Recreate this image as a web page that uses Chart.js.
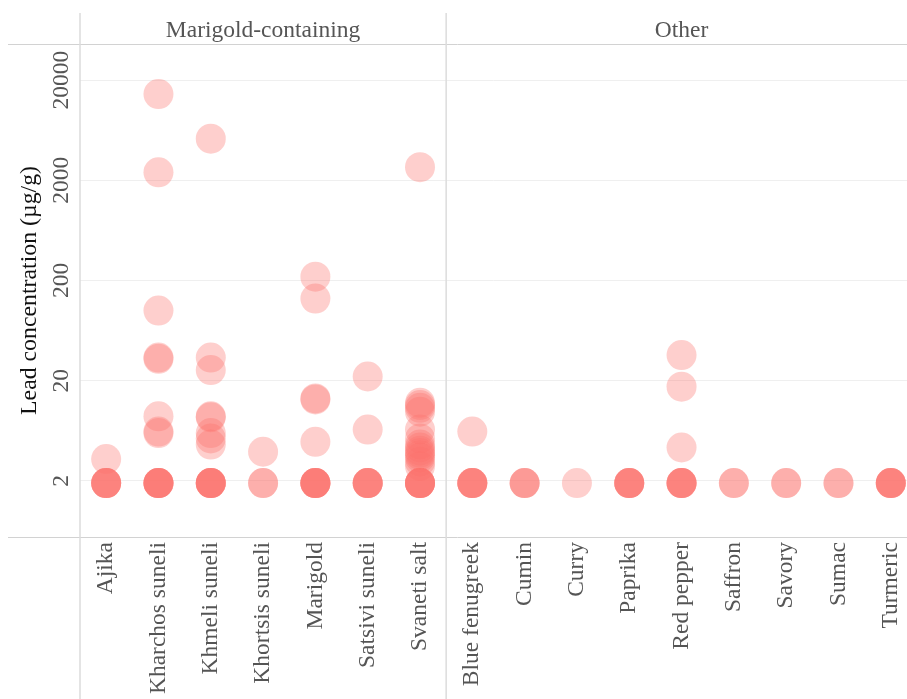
<!DOCTYPE html>
<html>
<head>
<meta charset="utf-8">
<script src="https://cdn.jsdelivr.net/npm/chart.js@4/dist/chart.umd.min.js"></script>
<style>
  html, body { margin: 0; padding: 0; background: #fff; overflow: hidden; }
  #wrap { width: 907px; height: 699px; position: relative; }
</style>
</head>
<body>
<div id="wrap"><canvas id="chart"></canvas></div>
<script>
// spice categories, in two groups
const marigoldGroup = ['Ajika', 'Kharchos suneli', 'Khmeli suneli', 'Khortsis suneli', 'Marigold', 'Satsivi suneli', 'Svaneti salt'];
const otherGroup = ['Blue fenugreek', 'Cumin', 'Curry', 'Paprika', 'Red pepper', 'Saffron', 'Savory', 'Sumac', 'Turmeric'];
const categories = marigoldGroup.concat(otherGroup);

// lead concentration per sample (µg/g), 1.9 = below limit row
const leadValues = [
  [3.3, 1.9, 1.9, 1.9, 1.9, 1.9],                                   // Ajika
  [14500, 2400, 100, 34, 33, 8.8, 6.2, 6.0, 1.9, 1.9, 1.9, 1.9, 1.9, 1.9], // Kharchos suneli
  [5200, 34, 25.5, 8.8, 8.6, 6.0, 5.3, 4.6, 1.9, 1.9, 1.9, 1.9, 1.9, 1.9], // Khmeli suneli
  [3.9, 1.9, 1.9],                                                   // Khortsis suneli
  [218, 132, 13.3, 13.0, 4.9, 1.9, 1.9, 1.9, 1.9, 1.9, 1.9],        // Marigold
  [22, 6.5, 1.9, 1.9, 1.9, 1.9, 1.9],                                // Satsivi suneli
  [2700, 12, 11.4, 10.7, 9.8, 6.5, 5.3, 4.6, 4.3, 4.0, 3.8, 3.6, 3.4, 3.1, 2.8, 1.9, 1.9, 1.9, 1.9, 1.9, 1.9], // Svaneti salt
  [6.2, 1.9, 1.9, 1.9, 1.9, 1.9],                                   // Blue fenugreek
  [1.9, 1.9, 1.9],                                                   // Cumin
  [1.9],                                                             // Curry
  [1.9, 1.9, 1.9, 1.9, 1.9],                                         // Paprika
  [36, 17.4, 4.3, 1.9, 1.9, 1.9, 1.9, 1.9],                          // Red pepper
  [1.9, 1.9],                                                        // Saffron
  [1.9, 1.9],                                                        // Savory
  [1.9, 1.9],                                                        // Sumac
  [1.9, 1.9, 1.9, 1.9, 1.9]                                          // Turmeric
];

const yTickValues = [2, 20, 200, 2000, 20000];
const panelTitles = ['Marigold-containing', 'Other'];

const points = [];
leadValues.forEach((vals, i) => {
  vals.forEach(v => points.push({ x: i, y: v }));
});

const serif = '"Liberation Serif", "Times New Roman", serif';

const decorPlugin = {
  id: 'decor',
  beforeDatasetsDraw(chart) {
    const ctx = chart.ctx;
    const area = chart.chartArea;
    const xs = chart.scales.x;
    const divider = xs.getPixelForValue(marigoldGroup.length - 0.5);
    ctx.save();
    ctx.lineWidth = 1;
    // header rule + bottom rule
    ctx.strokeStyle = '#d2d2d2';
    ctx.beginPath();
    ctx.moveTo(8, area.top + 0.5);
    ctx.lineTo(chart.width, area.top + 0.5);
    ctx.moveTo(8, area.bottom + 0.5);
    ctx.lineTo(chart.width, area.bottom + 0.5);
    ctx.stroke();
    // vertical panel lines
    ctx.strokeStyle = '#dcdcdc';
    ctx.lineWidth = 1.5;
    ctx.beginPath();
    ctx.moveTo(area.left, 13);
    ctx.lineTo(area.left, chart.height);
    ctx.moveTo(divider, 13);
    ctx.lineTo(divider, chart.height);
    ctx.stroke();
    ctx.restore();
  },
  afterDraw(chart) {
    const ctx = chart.ctx;
    const area = chart.chartArea;
    const xs = chart.scales.x;
    const ys = chart.scales.y;
    ctx.save();
    // panel headers
    ctx.font = '23.5px ' + serif;
    ctx.fillStyle = '#555';
    ctx.textAlign = 'center';
    ctx.textBaseline = 'alphabetic';
    const p1 = (xs.getPixelForValue(-0.5) + xs.getPixelForValue(marigoldGroup.length - 0.5)) / 2;
    const p2 = (xs.getPixelForValue(marigoldGroup.length - 0.5) + xs.getPixelForValue(categories.length - 0.5)) / 2;
    ctx.fillText(panelTitles[0], p1, 37);
    ctx.fillText(panelTitles[1], p2, 37);
    // rotated y tick labels
    yTickValues.forEach(v => {
      const y = ys.getPixelForValue(v);
      ctx.save();
      ctx.translate(62, y);
      ctx.rotate(-Math.PI / 2);
      ctx.textAlign = 'center';
      ctx.textBaseline = 'middle';
      ctx.fillText(String(v), 0, 0);
      ctx.restore();
    });
    // y axis title
    ctx.save();
    ctx.translate(30, (area.top + area.bottom) / 2);
    ctx.rotate(-Math.PI / 2);
    ctx.font = '23.8px ' + serif;
    ctx.fillStyle = '#111';
    ctx.textAlign = 'center';
    ctx.textBaseline = 'middle';
    ctx.fillText('Lead concentration (µg/g)', 0, 0);
    ctx.restore();
    ctx.restore();
  }
};

new Chart(document.getElementById('chart'), {
  type: 'scatter',
  data: {
    datasets: [{
      data: points,
      backgroundColor: 'rgba(252, 115, 108, 0.34)',
      borderWidth: 0,
      pointRadius: 15,
      pointHoverRadius: 15
    }]
  },
  options: {
    responsive: true,
    maintainAspectRatio: false,
    animation: false,
    layout: { autoPadding: false, padding: { top: 44, left: 0, right: 0, bottom: 0 } },
    plugins: {
      legend: { display: false },
      tooltip: { enabled: false }
    },
    scales: {
      x: {
        type: 'linear',
        min: -0.5,
        max: 15.31,
        afterBuildTicks: (scale) => {
          scale.ticks = categories.map((c, i) => ({ value: i }));
        },
        afterFit: (scale) => {
          scale.height = 162;
          scale.paddingLeft = 0;
          scale.paddingRight = 0;
        },
        grid: { display: false },
        border: { display: false },
        ticks: {
          autoSkip: false,
          minRotation: 90,
          maxRotation: 90,
          padding: -3,
          color: '#555',
          font: { family: serif, size: 23.5 },
          callback: (v) => categories[v]
        }
      },
      y: {
        type: 'logarithmic',
        min: 0.55,
        max: 45800,
        afterBuildTicks: (scale) => {
          scale.ticks = yTickValues.map(v => ({ value: v }));
        },
        afterFit: (scale) => {
          scale.width = 80;
          scale.paddingTop = 0;
          scale.paddingBottom = 0;
        },
        grid: { color: '#efefef', drawTicks: false },
        border: { display: false },
        ticks: { display: false }
      }
    }
  },
  plugins: [decorPlugin]
});
</script>
</body>
</html>
